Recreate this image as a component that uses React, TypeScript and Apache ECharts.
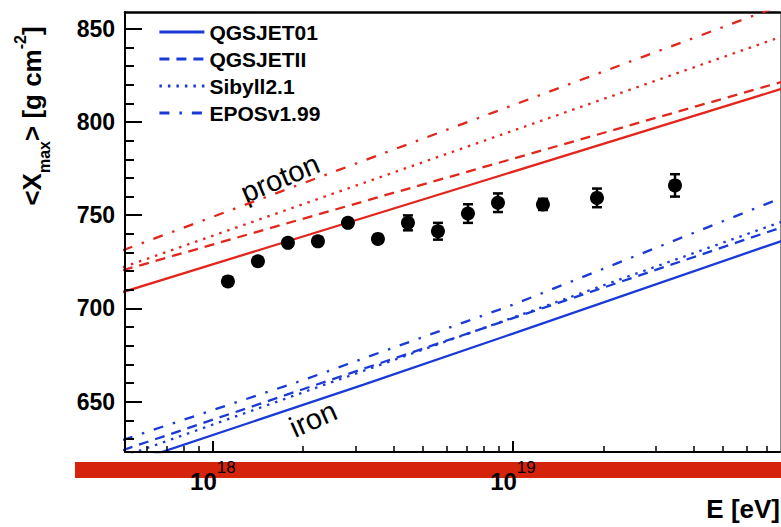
import React, { useEffect, useRef } from 'react';
import * as echarts from 'echarts';

const FONT = '"Liberation Sans", Arial, Helvetica, sans-serif';

const models = ['QGSJET01', 'QGSJETII', 'Sibyll2.1', 'EPOSv1.99'];
const lineTypes: any[] = ['solid', [10, 7], [2.5, 6], [10, 10, 2.5, 10]];
const protonColor = '#e3261b';
const ironColor = '#1a3ad8';

// model predictions: [lg(E/eV), <Xmax>]
const protonQGSJET01 = [[17.7, 708.8], [20.0, 823.0]];
const protonQGSJETII = [[17.7, 720.5], [20.0, 826.3]];
const protonSibyll = [[17.7, 722.1], [20.0, 851.7]];
const protonEPOS = [[17.7, 731.2], [20.0, 868.9]];
const ironQGSJET01 = [[17.7, 616.0], [18.5, 659.0], [19.0, 686.5], [20.0, 742.0]];
const ironQGSJETII = [[17.7, 624.0], [20.0, 749.2]];
const ironSibyll = [[17.7, 620.5], [20.0, 752.5]];
const ironEPOS = [[17.7, 629.5], [18.3, 661.5], [19.0, 702.0], [20.0, 766.0]];

// measurements
const dataLgE = [18.05, 18.15, 18.25, 18.35, 18.45, 18.55, 18.65, 18.75, 18.85, 18.95, 19.1, 19.28, 19.54];
const dataXmax = [714.5, 725.3, 735.2, 736.0, 745.9, 737.3, 745.9, 741.4, 750.9, 756.7, 755.8, 759.3, 766.0];
const dataErr = [2, 2, 2, 2, 2, 2, 4, 4.5, 5, 5, 3, 5, 6];

// axes
const xMin = 17.707;
const xMax = 19.89;
const yMin = 623;
const yMax = 859;
const xMajorTicks = [18, 19];
const xMinorEnergies = [6e17, 7e17, 8e17, 9e17, 2e18, 3e18, 4e18, 5e18, 6e18, 7e18, 8e18, 9e18, 2e19, 3e19, 4e19, 5e19, 6e19, 7e19];
const yMajorTicks = [650, 700, 750, 800, 850];
const yMinorTicks = [630, 640, 660, 670, 680, 690, 710, 720, 730, 740, 760, 770, 780, 790, 810, 820, 830, 840];

export default function App() {
  const ref = useRef<HTMLDivElement>(null);
  useEffect(() => {
    if (!ref.current) return;
    const chart = echarts.init(ref.current, null, { renderer: 'svg' });

    const protonSets = [protonQGSJET01, protonQGSJETII, protonSibyll, protonEPOS];
    const ironSets = [ironQGSJET01, ironQGSJETII, ironSibyll, ironEPOS];

    const lineSeries: any[] = [];
    protonSets.forEach((d, i) => {
      lineSeries.push({
        type: 'line',
        name: 'proton ' + models[i],
        data: d,
        symbol: 'none',
        clip: true,
        lineStyle: { color: protonColor, width: 2.3, type: lineTypes[i], cap: 'butt' },
        itemStyle: { color: protonColor },
        z: 3,
      });
    });
    ironSets.forEach((d, i) => {
      lineSeries.push({
        type: 'line',
        name: models[i],
        data: d,
        symbol: 'none',
        clip: true,
        lineStyle: { color: ironColor, width: 2.3, type: lineTypes[i], cap: 'butt' },
        itemStyle: { color: ironColor },
        z: 3,
      });
    });

    const labelRich = {
      b: { fontSize: 24, fontWeight: 'bold', fontFamily: FONT, color: '#000', padding: [10, 0, 0, 0], verticalAlign: 'bottom' },
      s: { fontSize: 17, fontFamily: FONT, color: '#000', verticalAlign: 'top' },
    };

    const option: any = {
      animation: false,
      grid: { left: 125, right: 1, top: 12, bottom: 75, containLabel: false },
      legend: {
        data: models,
        orient: 'vertical',
        left: 158,
        top: 21,
        padding: 0,
        itemWidth: 45,
        itemHeight: 14,
        itemGap: 5,
        selectedMode: false,
        textStyle: { fontSize: 21, fontWeight: 'bold', fontFamily: FONT, color: '#000', lineHeight: 22 },
        itemStyle: { opacity: 0 },
        lineStyle: { width: 2.8 },
      },
      xAxis: [
        {
          type: 'value', min: xMin, max: xMax, position: 'bottom', z: 10,
          axisLine: { show: true, onZero: false, lineStyle: { color: '#000', width: 2 } },
          axisTick: { show: true, inside: true, length: 11, customValues: xMajorTicks, lineStyle: { color: '#000', width: 2 } },
          axisLabel: {
            show: true, customValues: xMajorTicks, margin: 7,
            formatter: (v: number) => `{b|10}{s|${Math.round(v)}}`,
            rich: labelRich,
          },
          splitLine: { show: false },
        },
        {
          type: 'value', min: xMin, max: xMax, position: 'bottom', z: 10,
          axisLine: { show: false },
          axisTick: { show: true, inside: true, length: 6, customValues: xMinorEnergies.map((e) => Math.log10(e)), lineStyle: { color: '#000', width: 1.5 } },
          axisLabel: { show: false },
          splitLine: { show: false },
        },
        {
          type: 'value', min: xMin, max: xMax, position: 'top',
          axisLine: { show: true, onZero: false, lineStyle: { color: '#000', width: 2.5 } },
          axisTick: { show: false },
          axisLabel: { show: false },
          splitLine: { show: false },
        },
      ],
      yAxis: [
        {
          type: 'value', min: yMin, max: yMax, position: 'left', z: 10,
          axisLine: { show: true, onZero: false, lineStyle: { color: '#000', width: 2 } },
          axisTick: { show: true, inside: true, length: 17, customValues: yMajorTicks, lineStyle: { color: '#000', width: 2 } },
          axisLabel: {
            show: true, customValues: yMajorTicks, margin: 10,
            fontSize: 23, fontWeight: 'bold', fontFamily: FONT, color: '#000',
          },
          splitLine: { show: false },
        },
        {
          type: 'value', min: yMin, max: yMax, position: 'left', z: 10,
          axisLine: { show: false },
          axisTick: { show: true, inside: true, length: 9, customValues: yMinorTicks, lineStyle: { color: '#000', width: 2 } },
          axisLabel: { show: false },
          splitLine: { show: false },
        },
        {
          type: 'value', min: yMin, max: yMax, position: 'right',
          axisLine: { show: true, onZero: false, lineStyle: { color: '#8a8a8a', width: 1 } },
          axisTick: { show: false },
          axisLabel: { show: false },
          splitLine: { show: false },
        },
      ],
      series: [
        ...lineSeries,
        {
          type: 'custom',
          name: 'errors',
          z: 6,
          clip: true,
          data: dataLgE.map((x, i) => [x, dataXmax[i] - dataErr[i], dataXmax[i] + dataErr[i]]),
          renderItem: (params: any, api: any) => {
            const x = api.value(0);
            const lo = api.coord([x, api.value(1)]);
            const hi = api.coord([x, api.value(2)]);
            const hw = 5;
            const st = { stroke: '#000', lineWidth: 2.5 };
            return {
              type: 'group',
              children: [
                { type: 'line', shape: { x1: lo[0], y1: lo[1], x2: hi[0], y2: hi[1] }, style: st },
                { type: 'line', shape: { x1: lo[0] - hw, y1: lo[1], x2: lo[0] + hw, y2: lo[1] }, style: st },
                { type: 'line', shape: { x1: hi[0] - hw, y1: hi[1], x2: hi[0] + hw, y2: hi[1] }, style: st },
              ],
            };
          },
        },
        {
          type: 'scatter',
          name: 'data',
          data: dataLgE.map((x, i) => [x, dataXmax[i]]),
          symbol: 'circle',
          symbolSize: 14,
          itemStyle: { color: '#000', opacity: 1 },
          z: 7,
        },
      ],
      graphic: [
        {
          type: 'rect', z: -1,
          shape: { x: 75, y: 462, width: 706, height: 16 },
          style: { fill: '#d5230c' },
        },
        {
          type: 'text',
          x: 32, y: 116,
          rotation: Math.PI / 2,
          style: {
            text: '{a|<X}{s|max}{a|> [g cm}{p|-2}{a|]}',
            align: 'center', verticalAlign: 'middle',
            rich: {
              a: { fontSize: 26, fontWeight: 'bold', fontFamily: FONT, fill: '#000', padding: [7, 0, 7, 0] },
              s: { fontSize: 16, fontWeight: 'bold', fontFamily: FONT, fill: '#000', verticalAlign: 'bottom' },
              p: { fontSize: 16, fontWeight: 'bold', fontFamily: FONT, fill: '#000', verticalAlign: 'top' },
            },
          },
        },
        {
          type: 'text',
          x: 280, y: 178,
          rotation: 0.4,
          style: { text: 'proton', fontSize: 29, fontFamily: FONT, fill: '#000', align: 'center', verticalAlign: 'middle' },
        },
        {
          type: 'text',
          x: 313, y: 419,
          rotation: 0.42,
          style: { text: 'iron', fontSize: 29, fontFamily: FONT, fill: '#000', align: 'center', verticalAlign: 'middle' },
        },
        {
          type: 'text',
          right: 1, top: 496,
          style: { text: 'E [eV]', fontSize: 26, fontWeight: 'bold', fontFamily: FONT, fill: '#000' },
        },
      ],
    };
    chart.setOption(option);
    return () => chart.dispose();
  }, []);

  return (
    <div style={{ position: 'absolute', left: 0, top: 0, width: 781, height: 527, background: '#fff' }}>
      <div ref={ref} style={{ width: 781, height: 527 }} />
    </div>
  );
}
